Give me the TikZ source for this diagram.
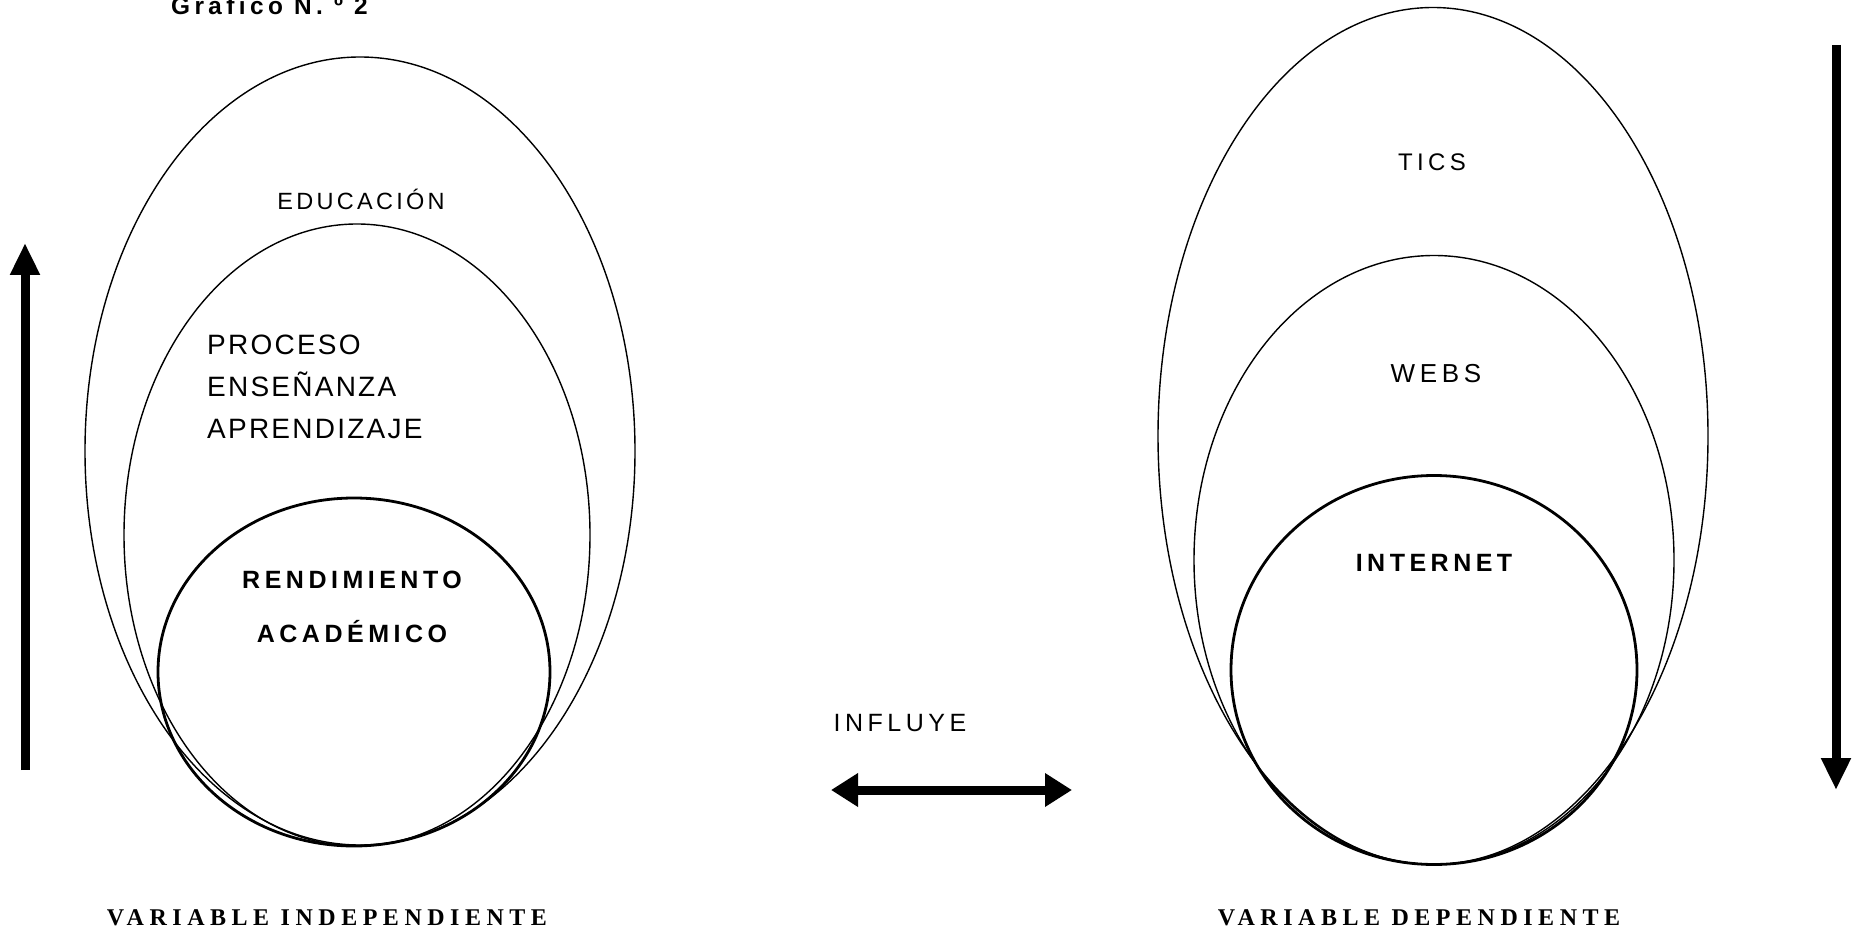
\documentclass[tikz,border=0pt]{standalone}
\usepackage{fontspec}
\setmainfont{Liberation Sans}
\newfontfamily\spaced[LetterSpace=18]{Liberation Sans}
\newfontfamily\midspaced[LetterSpace=14]{Liberation Sans}
\newfontfamily\tightspaced[LetterSpace=8]{Liberation Sans}
\newfontfamily\spacedserif[LetterSpace=23]{Liberation Serif}
\usetikzlibrary{shapes.geometric,arrows.meta}

\newcommand{\fsize}[2]{\fontsize{#1}{#2}\selectfont}

\tikzset{
  thinring/.style={draw, ellipse, line width=1.4pt, inner sep=0pt},
  thickring/.style={draw, ellipse, line width=2.8pt, inner sep=0pt},
  txt/.style={font=\spaced\fsize{#1}{42}, inner sep=0pt},
  txt/.default=22,
  boldtxt/.style={font=\spaced\bfseries\fsize{25}{54}, inner sep=0pt},
  vartxt/.style={font=\spacedserif\bfseries\fsize{24}{28}, inner sep=0pt},
  fatarrow/.style={line width=9pt, -{Triangle[width=28pt,length=32pt]}},
}

\begin{document}
\begin{tikzpicture}[x=1pt,y=-1pt]
    \useasboundingbox (0,0) rectangle (1858,933);

    \node[font=\spaced\bfseries\fsize{24.4}{28}, anchor=base west, inner sep=0pt] (title) at (171,15) {Gráfico N. º 2};

    % left side
    \node[thinring, minimum width=550, minimum height=788] (edu) at (360,451) {};
    \node[thinring, minimum width=466, minimum height=622] (proc) at (357,535) {};
    \node[thickring, minimum width=392, minimum height=348] (rend) at (354,672) {};
    \node[txt, font=\midspaced\fsize{23.5}{28}] (edutxt) at (361,199) {EDUCACIÓN};
    \node[txt, font=\tightspaced\fsize{28}{42}, align=left, anchor=west] (proctxt) at (207,387) {PROCESO\\ENSEÑANZA\\APRENDIZAJE};
    \node[boldtxt, align=center] (rendtxt) at (352,607) {RENDIMIENTO\\ACADÉMICO};

    % right side
    \node[thinring, minimum width=550, minimum height=857] (tics) at (1433,436) {};
    \node[thinring, minimum width=480, minimum height=609] (webs) at (1434,560) {};
    \node[thickring, minimum width=406, minimum height=389] (inet) at (1434,670) {};
    \node[txt=24] (ticstxt) at (1432,162) {TICS};
    \node[txt=26] (webstxt) at (1436,374) {WEBS};
    \node[boldtxt] (inettxt) at (1434,563) {INTERNET};

    % arrows
    \node[txt=25] (influye) at (900,723) {INFLUYE};
    \coordinate (infl-l) at (831,790);
    \coordinate (infl-r) at (1072,790);
    \draw[line width=9pt, {Triangle[width=32pt,length=27pt]}-{Triangle[width=32pt,length=27pt]}] (infl-l) -- (infl-r);

    \coordinate (up-a) at (25,770);
    \coordinate (up-b) at (25,243);
    \draw[fatarrow] (up-a) -- (up-b);
    \coordinate (down-a) at (1836,45);
    \coordinate (down-b) at (1836,790);
    \draw[fatarrow] (down-a) -- (down-b);

    \node[vartxt] (indep) at (327,918) {VARIABLE INDEPENDIENTE};
    \node[vartxt] (dep) at (1419,918) {VARIABLE DEPENDIENTE};
\end{tikzpicture}
\end{document}
